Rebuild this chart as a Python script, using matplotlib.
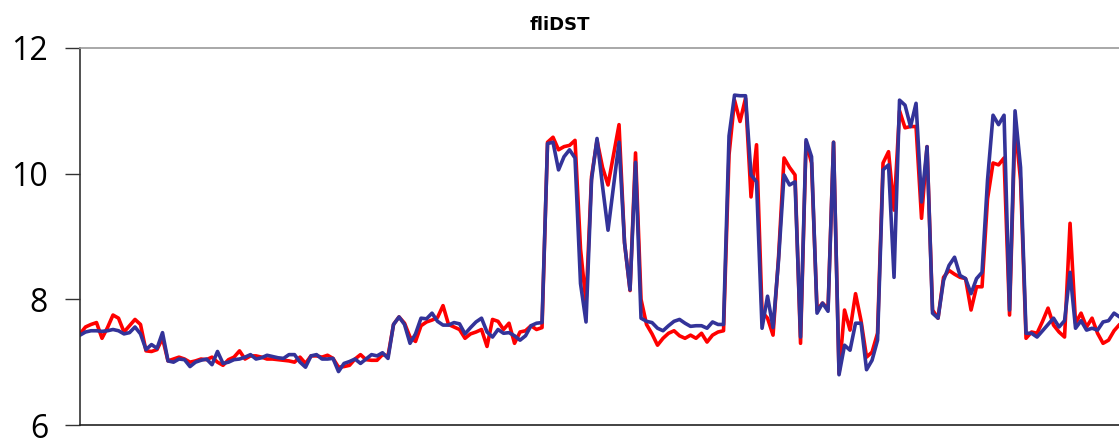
import numpy as np
import matplotlib.pyplot as plt

# values, one per sample
red_vals = [
    7.45, 7.56, 7.60, 7.63, 7.38, 7.55, 7.75, 7.70, 7.48, 7.58,
    7.68, 7.60, 7.18, 7.17, 7.20, 7.38, 7.02, 7.05, 7.08, 7.05,
    7.00, 7.02, 7.05, 7.04, 7.08, 7.00, 6.95, 7.04, 7.08, 7.18,
    7.05, 7.10, 7.10, 7.08, 7.05, 7.05, 7.04, 7.03, 7.02, 7.00,
    7.08, 6.98, 7.10, 7.10, 7.08, 7.11, 7.06, 6.92, 6.93, 6.95,
    7.05, 7.12, 7.04, 7.03, 7.03, 7.12, 7.10, 7.60, 7.72, 7.62,
    7.40, 7.33, 7.58, 7.64, 7.67, 7.71, 7.90, 7.60, 7.56, 7.52,
    7.38, 7.45, 7.48, 7.52, 7.25, 7.68, 7.65, 7.52, 7.62, 7.30,
    7.48, 7.50, 7.58, 7.52, 7.55, 10.50, 10.58, 10.38, 10.43, 10.45,
    10.53, 8.80, 7.94, 9.95, 10.53, 10.10, 9.82, 10.30, 10.78, 8.90,
    8.14, 10.33, 8.00, 7.60, 7.45, 7.27, 7.38, 7.46, 7.50, 7.42,
    7.38, 7.43, 7.38, 7.46, 7.32, 7.43, 7.48, 7.50, 10.30, 11.17,
    10.83, 11.20, 9.63, 10.46, 7.80, 7.70, 7.43, 8.67, 10.25, 10.10,
    9.98, 7.30, 10.50, 10.17, 7.83, 7.94, 7.85, 10.50, 6.82, 7.83,
    7.51, 8.09, 7.66, 7.08, 7.16, 7.46, 10.17, 10.35, 9.42, 11.00,
    10.73, 10.75, 10.75, 9.29, 10.43, 7.83, 7.70, 8.35, 8.46, 8.40,
    8.35, 8.33, 7.83, 8.20, 8.20, 9.60, 10.17, 10.14, 10.25, 7.75,
    10.78, 9.90, 7.38, 7.48, 7.46, 7.65, 7.86, 7.59, 7.48, 7.40,
    9.21, 7.62, 7.78, 7.56, 7.70, 7.46, 7.30, 7.35, 7.50, 7.60,
    7.62,
]

blue_vals = [
    7.43, 7.48, 7.50, 7.50, 7.49, 7.50, 7.52, 7.50, 7.45, 7.47,
    7.56, 7.45, 7.20, 7.28, 7.22, 7.47, 7.02, 7.00, 7.05, 7.04,
    6.93, 7.00, 7.03, 7.05, 6.96, 7.17, 6.98, 7.00, 7.04, 7.05,
    7.08, 7.12, 7.05, 7.07, 7.11, 7.09, 7.07, 7.06, 7.12, 7.12,
    7.00, 6.92, 7.10, 7.12, 7.05, 7.05, 7.06, 6.85, 6.98, 7.01,
    7.05, 6.98, 7.05, 7.12, 7.10, 7.15, 7.06, 7.60, 7.72, 7.60,
    7.30, 7.45, 7.70, 7.69, 7.78, 7.65, 7.59, 7.59, 7.63, 7.61,
    7.45, 7.55, 7.64, 7.70, 7.48, 7.40, 7.52, 7.46, 7.47, 7.42,
    7.35, 7.42, 7.58, 7.62, 7.63, 10.48, 10.50, 10.06, 10.27, 10.38,
    10.25, 8.25, 7.64, 9.90, 10.56, 9.80, 9.10, 9.80, 10.50, 8.90,
    8.15, 10.18, 7.70, 7.65, 7.63, 7.54, 7.50, 7.58, 7.65, 7.68,
    7.62, 7.57, 7.58, 7.58, 7.54, 7.64, 7.60, 7.60, 10.60, 11.25,
    11.24, 11.24, 9.98, 9.87, 7.54, 8.05, 7.55, 8.62, 9.98, 9.82,
    9.87, 7.40, 10.54, 10.27, 7.78, 7.94, 7.81, 10.50, 6.80, 7.27,
    7.19, 7.62, 7.62, 6.88, 7.03, 7.35, 10.06, 10.14, 8.35, 11.17,
    11.09, 10.75, 11.12, 9.55, 10.43, 7.78, 7.70, 8.30, 8.54, 8.67,
    8.38, 8.33, 8.09, 8.33, 8.43, 9.90, 10.93, 10.78, 10.93, 7.83,
    11.00, 10.10, 7.46, 7.46, 7.40, 7.50, 7.60, 7.70, 7.56, 7.66,
    8.43, 7.54, 7.66, 7.51, 7.54, 7.51, 7.64, 7.66, 7.78, 7.72,
    7.75,
]

title = "fliDST"
y_ticks = [6, 8, 10, 12]

red = np.array(red_vals)
blue = np.array(blue_vals)
x = np.arange(len(red))

fig = plt.figure(figsize=(11.19, 4.4), dpi=100)
# the plot runs past the right edge in the reference, so the axes do too
ax = fig.add_axes([80 / 1119, 1 - 425 / 440, 1.0, (425 - 48) / 440])

ax.plot(x, red, color='#ff0000', linewidth=2.6, solid_joinstyle='round')
ax.plot(x, blue, color='#333399', linewidth=2.6, solid_joinstyle='round')

visible = 1039 / 1119  # share of the axes width that is inside the image
ax.set_xlim(0, 188.9 / visible)
ax.set_ylim(6, 12)
ax.set_yticks(y_ticks)
ax.set_yticklabels([str(t) for t in y_ticks], fontsize=23, family='Open Sans')
ax.tick_params(axis='y', length=11, width=1, pad=12, color='#333333')
ax.tick_params(axis='x', length=0, labelbottom=False)

ax.spines['right'].set_visible(False)
ax.spines['top'].set_color('#999999')
ax.spines['left'].set_color('#333333')
ax.spines['bottom'].set_color('#222222')
for s in ax.spines.values():
    s.set_linewidth(1.2)

fig.text(560 / 1119, 1 - 25 / 440, title, ha='center', va='center',
         fontsize=13, fontweight='bold', family='DejaVu Sans')

fig.savefig('out.png', dpi=100)
